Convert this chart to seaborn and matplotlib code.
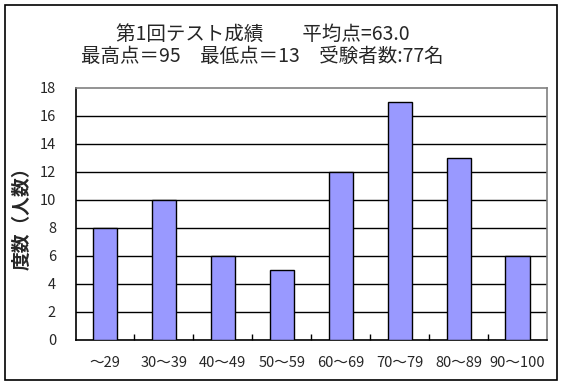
import matplotlib
matplotlib.use("Agg")
import matplotlib.pyplot as plt
import seaborn as sns
import pandas as pd
from matplotlib.patches import Rectangle

sns.set_theme(style="white")
plt.rcParams['font.family'] = ['Noto Sans CJK JP', 'DejaVu Sans']

categories = ["～29", "30～39", "40～49", "50～59", "60～69", "70～79", "80～89", "90～100"]
counts = [8, 10, 6, 5, 12, 17, 13, 6]
yticks = [0, 2, 4, 6, 8, 10, 12, 14, 16, 18]
title_line1 = "第1回テスト成績　　平均点=63.0"
title_line2 = "最高点＝95　最低点＝13　受験者数:77名"
ylabel_text = "度数（人数）"

df = pd.DataFrame({"range": categories, "count": counts})

fig = plt.figure(figsize=(5.62, 3.86), dpi=100)
fig.patch.set_facecolor("white")
fig.add_artist(Rectangle((5/562, 1 - 380/386), 552/562, 375/386, transform=fig.transFigure,
                         fill=False, edgecolor="black", linewidth=1.2))

ax = fig.add_axes([75.5/562, 1 - 339.5/386, (547 - 75.5)/562, (339.5 - 87.5)/386])
sns.barplot(data=df, x="range", y="count", ax=ax, color="#9999FF", saturation=1,
            edgecolor="black", linewidth=1.0, width=0.41, zorder=3)

ax.set_ylim(0, 18)
ax.set_xlim(-0.5, len(categories) - 0.5)
ax.set_yticks(yticks)
ax.set_yticklabels([str(v) for v in yticks], fontsize=10.5)
for v in yticks[1:-1]:
    ax.axhline(v, color="black", linewidth=1.0, zorder=1)

ax.set_xticks(range(len(categories)))
ax.set_xticklabels(categories, fontsize=10.5)
ax.tick_params(axis="x", length=0, pad=12)
ax.tick_params(axis="y", length=0, pad=14)
ax.set_xticks([i + 0.5 for i in range(len(categories) - 1)], minor=True)
ax.tick_params(axis="x", which="minor", direction="in", length=4, width=1, color="black", bottom=True)

for s in ["left", "bottom"]:
    ax.spines[s].set_color("black")
    ax.spines[s].set_linewidth(1.2)
for s in ["top", "right"]:
    ax.spines[s].set_color("#808080")
    ax.spines[s].set_linewidth(1.2)
    ax.spines[s].set_visible(True)

ax.set_xlabel("")
ax.set_ylabel(ylabel_text, fontsize=13.5, fontweight="bold", labelpad=6)

fig.text(263/562, 1 - 34/386, title_line1, ha="center", va="center", fontsize=14)
fig.text(262/562, 1 - 56/386, title_line2, ha="center", va="center", fontsize=14)

fig.savefig("out.png", dpi=100)
